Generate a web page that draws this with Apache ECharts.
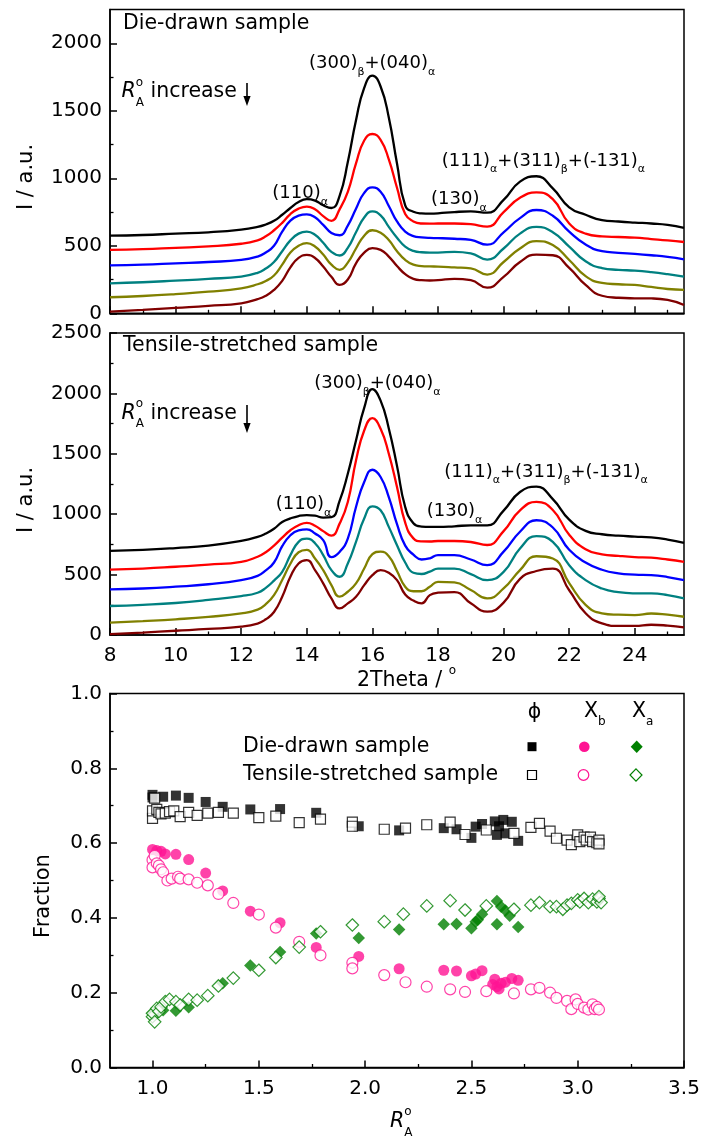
<!DOCTYPE html>
<html><head><meta charset="utf-8">
<script src="https://cdn.jsdelivr.net/npm/echarts@6/dist/echarts.min.js"></script>
<style>html,body{margin:0;padding:0;background:#fff}#c{width:703px;height:1140px}</style>
</head><body><div id="c"></div>
<script>
// ---------- DATA ----------
const twoTheta = [8, 9, 10, 11, 12, 12.5, 12.75, 13, 13.25, 13.5, 13.75, 14, 14.25, 14.5, 14.75, 15, 15.25, 15.5, 15.75, 16, 16.25, 16.5, 16.75, 17, 17.25, 17.5, 17.75, 18, 18.5, 19, 19.5, 20, 20.5, 21, 21.5, 22, 22.5, 23, 23.5, 24, 24.5, 25, 25.5];

// Die-drawn sample (top panel)
const die_c1 = [575,580,590,600,620,640,658, 685,730,780,825,845,835,800,780,870,1120,1430,1670,1760,1680,1450,1110,800,752,740,738, 740,750,755,745,840,975,1015,925,785,730,690,680,672,665,655,632];
const die_c2 = [470,475,485,495,515,540,570, 615,670,735,775,790,770,720,685,770,900,1110,1280,1328,1285,1140,930,735,680,665,664, 665,665,660,642,750,855,895,845,665,590,570,565,560,550,540,528];
const die_c3 = [355,360,370,380,395,420,450, 500,605,686,723,733,711,655,595,578,650,775,892,933,900,795,680,605,572,562,558, 557,552,543,508,600,705,765,722,605,510,460,448,440,430,418,400];
const die_c4 = [222,230,242,255,272,300,332, 380,460,540,590,605,582,522,455,428,485,600,710,755,725,640,560,494,462,452,450, 450,455,444,398,480,590,640,600,494,385,335,322,316,305,290,272];
const die_c5 = [119,128,142,160,185,215,240, 280,360,450,500,520,495,435,360,322,375,480,575,615,597,543,460,395,360,350,347, 346,340,333,287,380,480,535,505,395,275,225,215,210,195,180,173];
const die_c6 = [12,25,40,55,74,105,130, 173,240,340,410,432,410,346,270,210,250,370,450,482,470,420,350,290,255,245,243, 245,255,245,190,270,380,435,430,336,210,130,115,111,110,100,62];

// Tensile-stretched sample (middle panel)
const ten_c1 = [697,705,720,740,779,812,840, 880,935,965,985,993,988,972,975,1110,1335,1610,1880,2035,1940,1710,1400,1060,925,898,895, 895,900,908,908,1030,1184,1228,1125,955,862,834,822,815,808,790,763];
const ten_c2 = [542,550,565,582,606,648,685, 740,806,867,908,928,905,860,822,922,1101,1445,1693,1795,1707,1500,1225,930,800,775,774, 778,778,770,745,860,1032,1102,1035,830,710,668,655,645,640,625,606];
const ten_c3 = [377,385,400,420,454,490,535, 600,735,826,867,875,840,785,645,688,798,1060,1266,1368,1308,1142,917,740,665,625,635, 661,661,625,578,690,855,950,890,705,600,540,510,500,496,480,454];
const ten_c4 = [240,250,265,290,322,350,390, 450,523,661,771,798,760,661,537,482,592,771,964,1065,1032,895,743,600,515,505,525, 550,550,504,454,523,716,818,771,578,454,385,355,345,344,330,303];
const ten_c5 = [102,115,130,150,179,210,255, 330,455,590,685,705,633,537,413,317,358,427,550,669,690,652,530,400,362,362,399, 440,435,372,303,385,537,652,633,430,250,180,168,165,178,168,151];
const ten_c6 = [8,20,35,50,69,95,130, 190,317,482,592,619,537,427,303,220,262,317,413,495,537,515,454,335,285,262,330, 350,355,262,193,268,465,530,550,370,180,96,76,76,85,78,63];

const curveColors = ['#000000', '#FF0000', '#0000FF', '#008080', '#808000', '#800000'];

// Fractions vs R_A^o  ([R, fraction])
const die_phi = [[1.00,0.729],[1.00,0.722],[1.05,0.724],[1.11,0.727],[1.17,0.721],[1.25,0.710],[1.33,0.697],[1.46,0.690],[1.60,0.691],[1.77,0.681],[1.97,0.645],[2.16,0.634],[2.37,0.640],[2.43,0.637],[2.50,0.614],[2.52,0.644],[2.55,0.651],[2.61,0.658],[2.62,0.622],[2.63,0.645],[2.65,0.662],[2.66,0.626],[2.69,0.657],[2.72,0.606]];
const ten_phi = [[1.00,0.666],[1.00,0.686],[1.01,0.720],[1.02,0.690],[1.03,0.682],[1.04,0.678],[1.06,0.680],[1.08,0.684],[1.10,0.686],[1.13,0.671],[1.17,0.682],[1.21,0.674],[1.26,0.680],[1.31,0.682],[1.38,0.680],[1.50,0.668],[1.58,0.672],[1.69,0.655],[1.79,0.664],[1.94,0.656],[1.94,0.645],[2.09,0.637],[2.19,0.640],[2.29,0.649],[2.40,0.656],[2.47,0.623],[2.57,0.635],[2.70,0.626],[2.78,0.642],[2.82,0.653],[2.87,0.632],[2.90,0.613],[2.95,0.608],[2.97,0.596],[3.00,0.622],[3.01,0.604],[3.03,0.616],[3.04,0.608],[3.06,0.616],[3.07,0.604],[3.09,0.601],[3.10,0.608],[3.10,0.598]];
const die_xb = [[1.00,0.583],[1.02,0.580],[1.04,0.578],[1.06,0.571],[1.11,0.570],[1.17,0.556],[1.25,0.520],[1.33,0.472],[1.46,0.418],[1.60,0.387],[1.77,0.321],[1.97,0.297],[2.16,0.264],[2.37,0.260],[2.43,0.258],[2.50,0.245],[2.52,0.250],[2.55,0.259],[2.60,0.222],[2.61,0.236],[2.62,0.216],[2.63,0.210],[2.64,0.225],[2.66,0.228],[2.69,0.238],[2.72,0.233]];
const ten_xb = [[1.00,0.555],[1.00,0.535],[1.01,0.566],[1.02,0.546],[1.03,0.540],[1.04,0.530],[1.05,0.522],[1.07,0.500],[1.09,0.505],[1.12,0.510],[1.13,0.505],[1.17,0.503],[1.21,0.494],[1.26,0.487],[1.31,0.464],[1.38,0.440],[1.50,0.409],[1.58,0.374],[1.69,0.336],[1.79,0.300],[1.94,0.280],[1.94,0.265],[2.09,0.247],[2.19,0.228],[2.29,0.216],[2.40,0.209],[2.47,0.202],[2.57,0.204],[2.70,0.198],[2.78,0.209],[2.82,0.213],[2.87,0.200],[2.90,0.186],[2.95,0.178],[2.97,0.156],[2.99,0.182],[3.00,0.170],[3.03,0.160],[3.05,0.155],[3.07,0.169],[3.08,0.156],[3.09,0.162],[3.10,0.155]];
const die_xa = [[1.00,0.145],[1.01,0.140],[1.05,0.153],[1.11,0.152],[1.17,0.161],[1.33,0.225],[1.46,0.273],[1.60,0.309],[1.77,0.358],[1.97,0.346],[2.16,0.369],[2.37,0.383],[2.43,0.384],[2.50,0.372],[2.52,0.390],[2.53,0.395],[2.55,0.410],[2.62,0.445],[2.62,0.383],[2.64,0.430],[2.66,0.420],[2.68,0.406],[2.72,0.376]];
const ten_xa = [[1.00,0.136],[1.00,0.145],[1.01,0.122],[1.02,0.158],[1.03,0.150],[1.04,0.162],[1.06,0.176],[1.08,0.182],[1.11,0.176],[1.13,0.167],[1.17,0.182],[1.21,0.180],[1.26,0.192],[1.31,0.218],[1.38,0.239],[1.50,0.260],[1.58,0.294],[1.69,0.322],[1.79,0.363],[1.94,0.381],[2.09,0.390],[2.18,0.410],[2.29,0.432],[2.40,0.446],[2.47,0.421],[2.57,0.432],[2.70,0.423],[2.78,0.434],[2.82,0.441],[2.87,0.430],[2.90,0.430],[2.93,0.423],[2.95,0.434],[2.97,0.439],[3.00,0.448],[3.01,0.443],[3.03,0.452],[3.05,0.441],[3.07,0.450],[3.09,0.443],[3.10,0.452],[3.11,0.441],[3.10,0.457]];

// tick values
const thetaMajor = [8, 10, 12, 14, 16, 18, 20, 22, 24];
const thetaMinor = [9, 11, 13, 15, 17, 19, 21, 23, 25];
const dieYMajor = [0, 500, 1000, 1500, 2000];
const dieYMinor = [250, 750, 1250, 1750];
const tenYMajor = [0, 500, 1000, 1500, 2000, 2500];
const tenYMinor = [250, 750, 1250, 1750, 2250];
const rMajor = [1.0, 1.5, 2.0, 2.5, 3.0, 3.5];
const rMinor = [1.25, 1.75, 2.25, 2.75, 3.25];
const fMajor = [0.0, 0.2, 0.4, 0.6, 0.8, 1.0];
const fMinor = [0.1, 0.3, 0.5, 0.7, 0.9];

// ---------- CHART ----------
const FONT = '"DejaVu Sans", sans-serif';
const chart = echarts.init(document.getElementById('c'), null, {renderer: 'canvas'});

function majorAxis(dim, g, min, max, ticks, labels, fmt) {
  return {
    type: 'value', gridIndex: g, min: min, max: max,
    position: dim === 'x' ? 'bottom' : 'left',
    axisLine: {show: true, onZero: false, lineStyle: {color: '#000', width: 1.5}},
    axisTick: {show: true, inside: true, length: 7, customValues: ticks, lineStyle: {color: '#000', width: 1.5}},
    axisLabel: {show: labels, customValues: ticks, margin: dim === 'x' ? 11 : 8, color: '#000',
      fontFamily: FONT, fontSize: 20, formatter: fmt || (v => String(v))},
    splitLine: {show: false}
  };
}
function minorAxis(dim, g, min, max, ticks) {
  return {
    type: 'value', gridIndex: g, min: min, max: max,
    position: dim === 'x' ? 'bottom' : 'left',
    axisLine: {show: false, onZero: false},
    axisTick: {show: true, inside: true, length: 3.5, customValues: ticks, lineStyle: {color: '#000', width: 1.3}},
    axisLabel: {show: false},
    splitLine: {show: false}
  };
}
const f1 = v => v.toFixed(1);

const xAxis = [
  majorAxis('x', 0, 8, 25.5, thetaMajor, false),
  minorAxis('x', 0, 8, 25.5, thetaMinor),
  majorAxis('x', 1, 8, 25.5, thetaMajor, true),
  minorAxis('x', 1, 8, 25.5, thetaMinor),
  majorAxis('x', 2, 0.8, 3.5, rMajor, true, f1),
  minorAxis('x', 2, 0.8, 3.5, rMinor)
];
const yAxis = [
  majorAxis('y', 0, 0, 2250, dieYMajor, true),
  minorAxis('y', 0, 0, 2250, dieYMinor),
  majorAxis('y', 1, 0, 2500, tenYMajor, true),
  minorAxis('y', 1, 0, 2500, tenYMinor),
  majorAxis('y', 2, 0, 1, fMajor, true, f1),
  minorAxis('y', 2, 0, 1, fMinor)
];

function lineSeries(ax, ys, color) {
  return {type: 'line', xAxisIndex: ax, yAxisIndex: ax, data: twoTheta.map((x, i) => [x, ys[i]]),
    showSymbol: false, smooth: 0.5, lineStyle: {color: color, width: 2.3}, itemStyle: {color: color},
    silent: true, z: 3};
}
const PINK = '#FF1493', GREEN = '#008000';
function scat(data, symbol, size, color, open) {
  return {type: 'scatter', xAxisIndex: 4, yAxisIndex: 4, data: data, symbol: symbol, symbolSize: size,
    itemStyle: open ? {color: '#fff', borderColor: color, borderWidth: 1.2} : {color: color},
    silent: true, z: 4};
}

const series = [];
[die_c1, die_c2, die_c3, die_c4, die_c5, die_c6].forEach((s, i) => series.push(lineSeries(0, s, curveColors[i])));
[ten_c1, ten_c2, ten_c3, ten_c4, ten_c5, ten_c6].forEach((s, i) => series.push(lineSeries(2, s, curveColors[i])));
series.push(scat(die_phi, 'rect', 10, '#000', false));
series.push(scat(ten_phi, 'rect', 10, '#000', true));
series.push(scat(die_xb, 'circle', 11, PINK, false));
series.push(scat(ten_xb, 'circle', 11, PINK, true));
series.push(scat(die_xa, 'diamond', 12.5, GREEN, false));
series.push(scat(ten_xa, 'diamond', 12.5, GREEN, true));

// ---------- TEXT HELPERS ----------
const cv = document.createElement('canvas').getContext('2d');
function tw(t, size, italic) { cv.font = (italic ? 'italic ' : '') + size + 'px "DejaVu Sans"'; return cv.measureText(t).width; }
function txt(x, y, t, size, italic, align, rot) {
  return {type: 'text', x: x, y: y, rotation: rot || 0, z: 100, silent: true,
    style: {text: t, fill: '#000', font: (italic ? 'italic ' : '') + size + 'px "DejaVu Sans"',
      align: align || 'left', verticalAlign: 'middle', textAlign: align || 'left', textVerticalAlign: 'middle'}};
}
// parts: ['n', text] normal, ['i', text] italic, ['b', text] subscript, ['p', text] superscript, ['pb', sup, sub] stacked
function seq(x, y, parts, fs, sfs, subDy, supDy) {
  const els = []; let cx = x;
  parts.forEach(p => {
    if (p[0] === 'n' || p[0] === 'i') { els.push(txt(cx, y, p[1], fs, p[0] === 'i')); cx += tw(p[1], fs, p[0] === 'i'); }
    else if (p[0] === 'b') { els.push(txt(cx, y + subDy, p[1], sfs)); cx += tw(p[1], sfs); }
    else if (p[0] === 'p') { els.push(txt(cx, y + supDy, p[1], sfs)); cx += tw(p[1], sfs); }
    else if (p[0] === 'pb') { els.push(txt(cx, y + supDy, p[1], sfs)); els.push(txt(cx, y + subDy, p[2], sfs)); cx += Math.max(tw(p[1], sfs), tw(p[2], sfs)); }
  });
  return els;
}
function peak300(x, y) { return seq(x, y, [['n', '(300)'], ['b', 'β'], ['n', '+(040)'], ['b', 'α']], 18, 11, 9, -9); }
function peak110(x, y) { return seq(x, y, [['n', '(110)'], ['b', 'α']], 18, 11, 9, -9); }
function peak130(x, y) { return seq(x, y, [['n', '(130)'], ['b', 'α']], 18, 11, 9, -9); }
function peak111(x, y) { return seq(x, y, [['n', '(111)'], ['b', 'α'], ['n', '+(311)'], ['b', 'β'], ['n', '+(-131)'], ['b', 'α']], 18, 11, 8, -9); }
function raInc(x, y) { return seq(x, y, [['i', 'R'], ['pb', 'o', 'A'], ['n', ' increase']], 20.5, 12, 10.5, -9.5); }
function arrow(x, y1, y2) {
  return [
    {type: 'line', z: 100, silent: true, shape: {x1: x, y1: y1, x2: x, y2: y2 - 8}, style: {stroke: '#000', lineWidth: 1.6}},
    {type: 'polygon', z: 100, silent: true, shape: {points: [[x - 3.6, y2 - 10], [x + 3.6, y2 - 10], [x, y2]]}, style: {fill: '#000'}}
  ];
}

let graphics = [];
// top panel
graphics.push(txt(123, 24, 'Die-drawn sample', 20.5));
graphics = graphics.concat(raInc(121.5, 92), arrow(247, 83, 106));
graphics = graphics.concat(peak300(309, 63), peak110(272.3, 193), peak130(431, 199), peak111(441.7, 161));
// middle panel
graphics.push(txt(123, 346, 'Tensile-stretched sample', 20.5));
graphics = graphics.concat(raInc(121.5, 413.5), arrow(247, 405, 433));
graphics = graphics.concat(peak300(314.3, 383), peak110(275.7, 504), peak130(426.7, 511), peak111(444.3, 472.5));
// axis titles
graphics.push(txt(27, 177, 'I / a.u.', 21, false, 'center', Math.PI / 2));
graphics.push(txt(27, 500, 'I / a.u.', 21, false, 'center', Math.PI / 2));
graphics.push(txt(43.5, 896, 'Fraction', 21, false, 'center', Math.PI / 2));
graphics = graphics.concat(seq(357, 681, [['n', '2Theta / '], ['p', 'o']], 20.5, 12, 10, -10));
graphics = graphics.concat(seq(390, 1122, [['i', 'R'], ['pb', 'o', 'A']], 20.5, 12, 11, -10));
// legend of bottom panel
graphics.push(txt(534.5, 713, 'ϕ', 20.5, false, 'center'));
graphics = graphics.concat(seq(584, 712, [['n', 'X'], ['b', 'b']], 20.5, 12, 10, -10));
graphics = graphics.concat(seq(632, 712, [['n', 'X'], ['b', 'a']], 20.5, 12, 10, -10));
graphics.push(txt(243, 746.7, 'Die-drawn sample', 20.5));
graphics.push(txt(243, 775, 'Tensile-stretched sample', 20.5));
function lgRect(cx, cy, open) { return {type: 'rect', z: 100, silent: true, shape: {x: cx - 4.5, y: cy - 4.5, width: 9, height: 9}, style: open ? {fill: '#fff', stroke: '#000', lineWidth: 1.2} : {fill: '#000'}}; }
function lgCirc(cx, cy, open) { return {type: 'circle', z: 100, silent: true, shape: {cx: cx, cy: cy, r: 5.3}, style: open ? {fill: '#fff', stroke: PINK, lineWidth: 1.2} : {fill: PINK}}; }
function lgDia(cx, cy, open) { return {type: 'polygon', z: 100, silent: true, shape: {points: [[cx, cy - 6.2], [cx + 6, cy], [cx, cy + 6.2], [cx - 6, cy]]}, style: open ? {fill: '#fff', stroke: GREEN, lineWidth: 1.2} : {fill: GREEN}}; }
graphics.push(lgRect(532, 746.7, false), lgCirc(584.3, 746.7, false), lgDia(636.7, 746.7, false));
graphics.push(lgRect(532, 775, true), lgCirc(583.5, 775, true), lgDia(636, 775, true));

const gridBase = {left: 110, right: 19, show: true, borderColor: '#000', borderWidth: 1.5, backgroundColor: 'transparent'};
chart.setOption({
  animation: false,
  backgroundColor: '#fff',
  textStyle: {fontFamily: FONT},
  grid: [
    Object.assign({top: 9.5, height: 303.8}, gridBase),
    Object.assign({top: 333, height: 302}, gridBase),
    Object.assign({top: 693.5, height: 374}, gridBase)
  ],
  xAxis: xAxis,
  yAxis: yAxis,
  series: series,
  graphic: graphics
});
</script></body></html>
